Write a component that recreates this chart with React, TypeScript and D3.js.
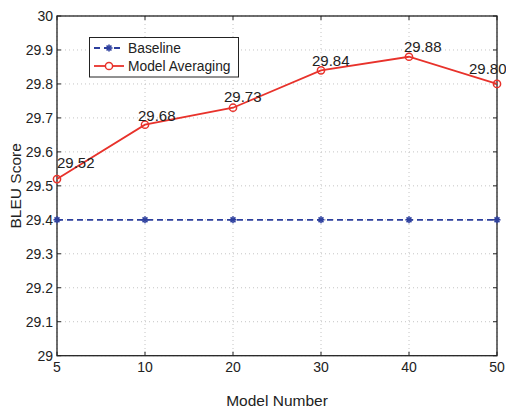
import React from "react";
import * as d3 from "d3";

const categories = ["5", "10", "20", "30", "40", "50"];
const baseline = [29.4, 29.4, 29.4, 29.4, 29.4, 29.4];
const averaging = [29.52, 29.68, 29.73, 29.84, 29.88, 29.8];
const labelText = ["29.52", "29.68", "29.73", "29.84", "29.88", "29.80"];
const labelDx = [0, -7, -9, -9, -5, -28];
const labelDy = [-11, -4, -6, -4, -5, -10];
const yTicks = [29, 29.1, 29.2, 29.3, 29.4, 29.5, 29.6, 29.7, 29.8, 29.9, 30];

const W = 506, H = 407;
const L = 57, R = 497, T = 16, B = 355.7;
const BLUE = "#2d3f9e";
const RED = "#e8322b";
const FONT = "Arial, 'Liberation Sans', Helvetica, sans-serif";

export default function App() {
  const x = d3.scalePoint<string>().domain(categories).range([L, R]);
  const y = d3.scaleLinear().domain([29, 30]).range([B, T]);
  const line = d3.line<number>().x((_, i) => x(categories[i])!).y(d => y(d));

  const star = (cx: number, cy: number, key: string) => {
    const r = 3.5;
    const d = r * 0.7;
    return (
      <g key={key} stroke={BLUE} strokeWidth={1.6}>
        <line x1={cx - r} y1={cy} x2={cx + r} y2={cy} />
        <line x1={cx} y1={cy - r} x2={cx} y2={cy + r} />
        <line x1={cx - d} y1={cy - d} x2={cx + d} y2={cy + d} />
        <line x1={cx - d} y1={cy + d} x2={cx + d} y2={cy - d} />
      </g>
    );
  };

  return (
    <svg width={W} height={H} style={{ position: "absolute", left: 0, top: 0, background: "#fff" }} fontFamily={FONT}>
      <rect x={0} y={0} width={W} height={H} fill="#fff" />
      {/* grid */}
      {categories.map(c => (
        <line key={"gx" + c} x1={x(c)} x2={x(c)} y1={T} y2={B} stroke="#b5b5b5" strokeWidth={0.8} strokeDasharray="1,3" />
      ))}
      {yTicks.map(t => (
        <line key={"gy" + t} x1={L} x2={R} y1={y(t)} y2={y(t)} stroke="#b5b5b5" strokeWidth={0.8} strokeDasharray="1,3" />
      ))}
      {/* ticks inward */}
      {categories.map(c => (
        <g key={"tx" + c} stroke="#222" strokeWidth={1}>
          <line x1={x(c)} x2={x(c)} y1={B} y2={B - 4} />
          <line x1={x(c)} x2={x(c)} y1={T} y2={T + 4} />
        </g>
      ))}
      {yTicks.map(t => (
        <g key={"ty" + t} stroke="#222" strokeWidth={1}>
          <line x1={L} x2={L + 4} y1={y(t)} y2={y(t)} />
          <line x1={R} x2={R - 4} y1={y(t)} y2={y(t)} />
        </g>
      ))}
      <rect x={L} y={T} width={R - L} height={B - T} fill="none" stroke="#222" strokeWidth={1.3} />
      {/* tick labels */}
      {yTicks.map(t => (
        <text key={"ly" + t} x={L - 4} y={y(t)} dy="0.35em" textAnchor="end" fontSize={14} fill="#222">
          {d3.format("")(+t.toFixed(1))}
        </text>
      ))}
      {categories.map(c => (
        <text key={"lx" + c} x={x(c)} y={372} textAnchor="middle" fontSize={14} fill="#222">{c}</text>
      ))}
      <text x={(L + R) / 2} y={405.5} textAnchor="middle" fontSize={15.5} fill="#222">Model Number</text>
      <text transform={`translate(20.5,${(T + B) / 2}) rotate(-90)`} textAnchor="middle" fontSize={15.5} fill="#222">BLEU Score</text>
      {/* baseline series */}
      <path d={line(baseline) || ""} fill="none" stroke={BLUE} strokeWidth={1.8} strokeDasharray="6,4" />
      {baseline.map((v, i) => star(x(categories[i])!, y(v), "s" + i))}
      {/* averaging series */}
      <path d={line(averaging) || ""} fill="none" stroke={RED} strokeWidth={1.8} />
      {averaging.map((v, i) => (
        <circle key={"c" + i} cx={x(categories[i])} cy={y(v)} r={3.6} fill="none" stroke={RED} strokeWidth={1.5} />
      ))}
      {averaging.map((v, i) => (
        <text key={"dl" + i} x={x(categories[i])! + labelDx[i]} y={y(v) + labelDy[i]} fontSize={15} fill="#222">{labelText[i]}</text>
      ))}
      {/* legend */}
      <g>
        <rect x={89.5} y={37.5} width={149} height={39.5} fill="#fff" stroke="#222" strokeWidth={1} />
        <line x1={94} x2={124} y1={48} y2={48} stroke={BLUE} strokeWidth={1.8} strokeDasharray="6,4" />
        {star(109, 48, "legstar")}
        <text x={128} y={48} dy="0.35em" fontSize={13.8} fill="#222">Baseline</text>
        <line x1={94} x2={124} y1={66} y2={66} stroke={RED} strokeWidth={1.8} />
        <circle cx={109} cy={66} r={3.6} fill="#fff" stroke={RED} strokeWidth={1.5} />
        <text x={128} y={66} dy="0.35em" fontSize={13.8} fill="#222">Model Averaging</text>
      </g>
    </svg>
  );
}
